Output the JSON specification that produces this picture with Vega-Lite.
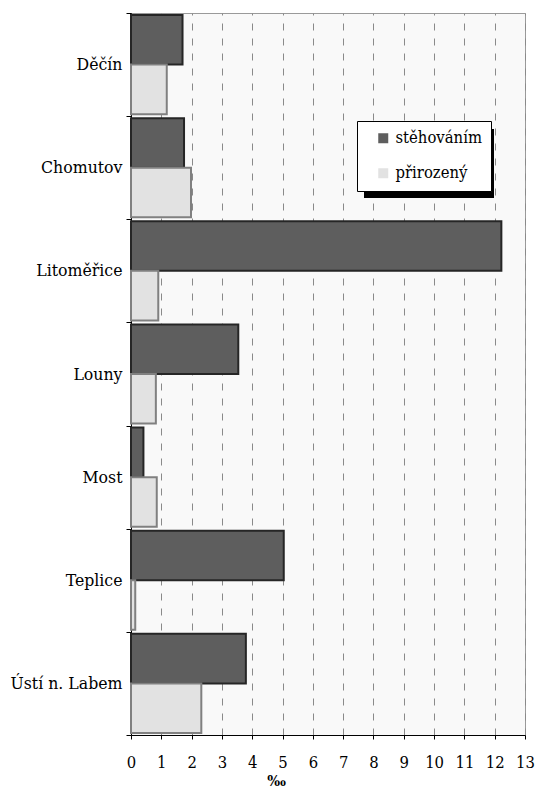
{
  "$schema": "https://vega.github.io/schema/vega-lite/v6.json",
  "width": 394,
  "height": 722,
  "autosize": {"type": "none"},
  "padding": {"left": 131, "top": 13, "right": 11, "bottom": 54},
  "background": "white",
  "config": {
    "view": {"fill": "#f9f9f9", "stroke": "#9a9a9a", "strokeWidth": 1},
    "font": "DejaVu Serif Condensed"
  },
  "data": {
    "values": [
      {"okres": "Děčín", "serie": "stěhováním", "v": 1.70},
      {"okres": "Děčín", "serie": "přirozený", "v": 1.18},
      {"okres": "Chomutov", "serie": "stěhováním", "v": 1.75},
      {"okres": "Chomutov", "serie": "přirozený", "v": 1.98},
      {"okres": "Litoměřice", "serie": "stěhováním", "v": 12.22},
      {"okres": "Litoměřice", "serie": "přirozený", "v": 0.90},
      {"okres": "Louny", "serie": "stěhováním", "v": 3.54},
      {"okres": "Louny", "serie": "přirozený", "v": 0.82},
      {"okres": "Most", "serie": "stěhováním", "v": 0.41},
      {"okres": "Most", "serie": "přirozený", "v": 0.85},
      {"okres": "Teplice", "serie": "stěhováním", "v": 5.04},
      {"okres": "Teplice", "serie": "přirozený", "v": 0.14},
      {"okres": "Ústí n. Labem", "serie": "stěhováním", "v": 3.79},
      {"okres": "Ústí n. Labem", "serie": "přirozený", "v": 2.32}
    ]
  },
  "encoding": {
    "y": {
      "field": "okres",
      "type": "nominal",
      "sort": ["Děčín", "Chomutov", "Litoměřice", "Louny", "Most", "Teplice", "Ústí n. Labem"],
      "scale": {"paddingInner": 0, "paddingOuter": 0},
      "axis": {
        "title": null,
        "tickBand": "extent",
        "grid": false,
        "domainColor": "black",
        "tickColor": "black",
        "tickSize": 5,
        "labelFontSize": 17.5,
        "labelFont": "DejaVu Serif Condensed",
        "labelColor": "black",
        "labelPadding": 4,
        "labelLimit": 200
      }
    },
    "x": {
      "field": "v",
      "type": "quantitative",
      "scale": {"domain": [0, 13], "nice": false},
      "axis": {
        "title": "‰",
        "values": [0, 0.5, 1, 1.5, 2, 2.5, 3, 3.5, 4, 4.5, 5, 5.5, 6, 6.5, 7, 7.5, 8, 8.5, 9, 9.5, 10, 10.5, 11, 11.5, 12, 12.5, 13],
        "format": "d",
        "labelExpr": "datum.value % 1 === 0 ? datum.label : ''",
        "labelFlush": false,
        "labelOverlap": false,
        "grid": true,
        "gridDash": [7, 8],
        "gridColor": {"condition": {"test": "datum.value % 1 === 0", "value": "#8a8a8a"}, "value": "#c8c8c8"},
        "domainColor": "black",
        "tickColor": "black",
        "tickSize": 4,
        "labelFontSize": 16.5,
        "labelFont": "DejaVu Serif Condensed",
        "labelColor": "black",
        "labelPadding": 15,
        "titleFont": "DejaVu Serif Condensed",
        "titleFontSize": 15,
        "titleFontWeight": "bold",
        "titleColor": "black",
        "titleX": 145,
        "titleY": 50,
        "titleBaseline": "alphabetic"
      }
    }
  },
  "layer": [
    {
      "mark": {"type": "point", "opacity": 0},
      "encoding": {
        "color": {
          "field": "v",
          "type": "quantitative",
          "scale": {"range": ["black", "black"]},
          "legend": {
            "title": null,
            "orient": "none",
            "legendX": 233,
            "legendY": 116,
            "direction": "horizontal",
            "gradientLength": 130,
            "gradientThickness": 69,
            "gradientStrokeColor": "black",
            "labelExpr": "''",
            "labelFontSize": 1,
            "labelOpacity": 0,
            "padding": 0
          }
        }
      }
    },
    {
      "mark": {"type": "bar", "strokeWidth": 2},
      "encoding": {
        "yOffset": {
          "field": "serie",
          "sort": ["stěhováním", "přirozený"],
          "scale": {"paddingOuter": 0.04, "paddingInner": 0}
        },
        "fill": {
          "field": "serie",
          "type": "nominal",
          "sort": ["stěhováním", "přirozený"],
          "scale": {"range": ["#5e5e5e", "#e2e2e2"]},
          "legend": {
            "title": null,
            "orient": "none",
            "legendX": 226,
            "legendY": 108,
            "direction": "vertical",
            "fillColor": "white",
            "strokeColor": "black",
            "padding": 9,
            "symbolType": "square",
            "symbolSize": 100,
            "symbolStrokeWidth": 1.5,
            "labelFontSize": 16.5,
            "labelFont": "DejaVu Serif Condensed",
            "labelColor": "black",
            "rowPadding": 18,
            "symbolOffset": 9,
            "labelOffset": 4,
            "cornerRadius": 0,
            "encoding": {
              "symbols": {
                "update": {
                  "fill": {"signal": "datum.value === 'stěhováním' ? '#333333' : '#dddddd'"},
                  "stroke": {"signal": "datum.value === 'stěhováním' ? '#111111' : '#808080'"},
                  "strokeWidth": {"value": 1.5},
                  "opacity": {"value": 1}
                }
              }
            }
          }
        },
        "stroke": {
          "field": "serie",
          "type": "nominal",
          "sort": ["stěhováním", "přirozený"],
          "scale": {"range": ["#262626", "#808080"]},
          "legend": null
        }
      }
    }
  ]
}
